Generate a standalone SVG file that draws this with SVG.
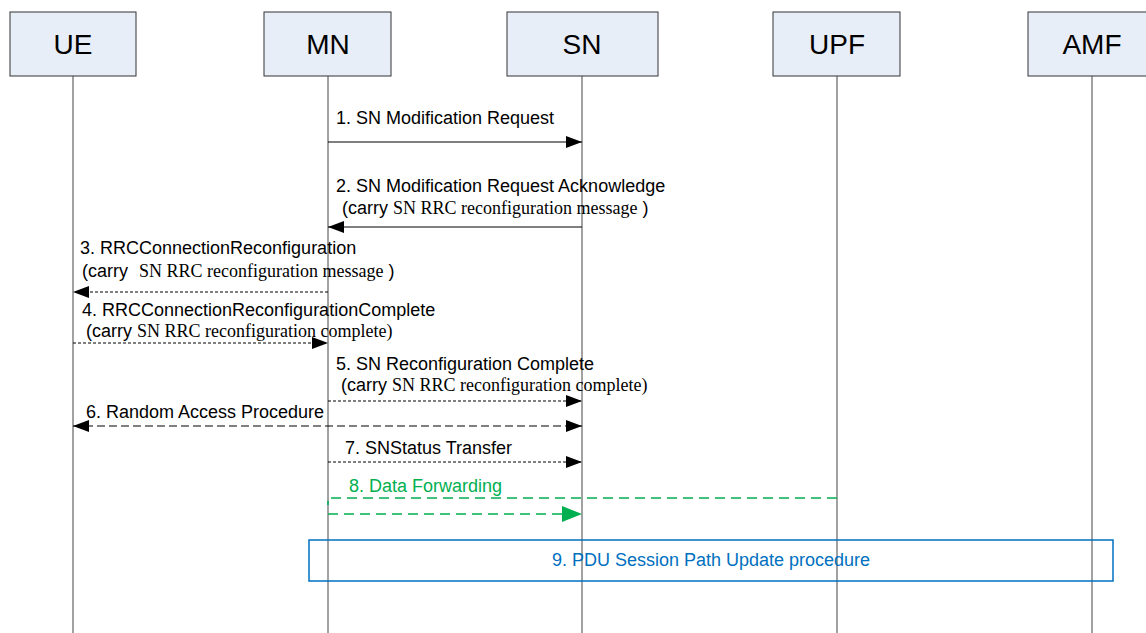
<svg xmlns="http://www.w3.org/2000/svg" width="1146" height="633" viewBox="0 0 1146 633">
<style>
.box{fill:#E8EEF7;stroke:#333;stroke-width:1}
.hdr{font-family:"Liberation Sans",Arial,sans-serif;font-size:28px;fill:#000;text-anchor:middle}
.life{stroke:#444;stroke-width:1;fill:none}
.lbl{font-family:"Liberation Sans",Arial,sans-serif;font-size:18px;fill:#000}
.tm{font-family:"Liberation Serif","Times New Roman",serif;font-size:18px}
.msg{stroke:#000;stroke-width:1;fill:none}
.dot{stroke-dasharray:3,2}
.dash{stroke-dasharray:8,4}
.grn{stroke:#00B050;stroke-width:1.6;fill:none;stroke-dasharray:10,6}
</style>
<defs>
<marker id="ah" viewBox="0 0 16 12" refX="16" refY="6" markerWidth="16" markerHeight="12" markerUnits="userSpaceOnUse" orient="auto-start-reverse">
<path d="M0,0 L16,6 L0,12 Z" fill="#000"/>
</marker>
<marker id="ahg" viewBox="0 0 20 16" refX="20" refY="8" markerWidth="20" markerHeight="16" markerUnits="userSpaceOnUse" orient="auto">
<path d="M0,0 L20,8 L0,16 Z" fill="#00B050"/>
</marker>
</defs>
<rect width="1146" height="633" fill="#fff"/>
<g id="UE"><rect class="box" x="10" y="12" width="126" height="64"/><text class="hdr" x="73" y="54">UE</text><line class="life" x1="73" y1="76" x2="73" y2="633"/></g>
<g id="MN"><rect class="box" x="264" y="12" width="127" height="64"/><text class="hdr" x="328" y="54">MN</text><line class="life" x1="328" y1="76" x2="328" y2="633"/></g>
<g id="SN"><rect class="box" x="507" y="12" width="151" height="64"/><text class="hdr" x="582" y="54">SN</text><line class="life" x1="582" y1="76" x2="582" y2="633"/></g>
<g id="UPF"><rect class="box" x="773" y="12" width="127" height="64"/><text class="hdr" x="837" y="54">UPF</text><line class="life" x1="837" y1="76" x2="837" y2="633"/></g>
<g id="AMF"><rect class="box" x="1028" y="12" width="127" height="64"/><text class="hdr" x="1092" y="54">AMF</text><line class="life" x1="1092" y1="76" x2="1092" y2="633"/></g>
<g id="connectors">
<line class="msg" x1="328" y1="142" x2="582" y2="142" marker-end="url(#ah)"/>
<line class="msg" x1="582" y1="227" x2="328" y2="227" marker-end="url(#ah)"/>
<line class="msg dot" x1="328" y1="292" x2="73" y2="292" marker-end="url(#ah)"/>
<line class="msg dot" x1="73" y1="343" x2="328" y2="343" marker-end="url(#ah)"/>
<line class="msg dot" x1="328" y1="401" x2="582" y2="401" marker-end="url(#ah)"/>
<line class="msg dash" x1="73" y1="426" x2="582" y2="426" marker-start="url(#ah)" marker-end="url(#ah)"/>
<line class="msg dot" x1="328" y1="462" x2="582" y2="462" marker-end="url(#ah)"/>
<path class="grn" d="M837,498 H328 V505"/>
<line class="grn" x1="328" y1="514" x2="582" y2="514" marker-end="url(#ahg)"/>
</g>
<g id="labels">
<text class="lbl" x="336" y="124">1. SN Modification Request</text>
<text class="lbl" x="336" y="192">2. SN Modification Request Acknowledge</text>
<text class="lbl" x="342" y="214">(carry <tspan class="tm">SN RRC reconfiguration message</tspan> )</text>
<text class="lbl" x="80" y="254">3. RRCConnectionReconfiguration</text>
<text class="lbl" x="82" y="277">(carry <tspan class="tm" dx="6">SN RRC reconfiguration message</tspan> )</text>
<text class="lbl" x="82" y="316">4. RRCConnectionReconfigurationComplete</text>
<text class="lbl" x="86" y="337">(carry <tspan class="tm">SN RRC reconfiguration complete)</tspan></text>
<text class="lbl" x="336" y="370">5. SN Reconfiguration Complete</text>
<text class="lbl" x="341" y="391">(carry <tspan class="tm">SN RRC reconfiguration complete)</tspan></text>
<text class="lbl" x="86" y="418">6. Random Access Procedure</text>
<text class="lbl" x="345" y="454">7. SNStatus Transfer</text>
<text class="lbl" x="349" y="492" style="fill:#00B050">8. Data Forwarding</text>
</g>
<g id="step9">
<rect x="309" y="540" width="804" height="41" fill="none" stroke="#0070C0" stroke-width="1.5"/>
<text class="lbl" x="711" y="566" text-anchor="middle" style="fill:#0070C0">9. PDU Session Path Update procedure</text>
</g>
</svg>
